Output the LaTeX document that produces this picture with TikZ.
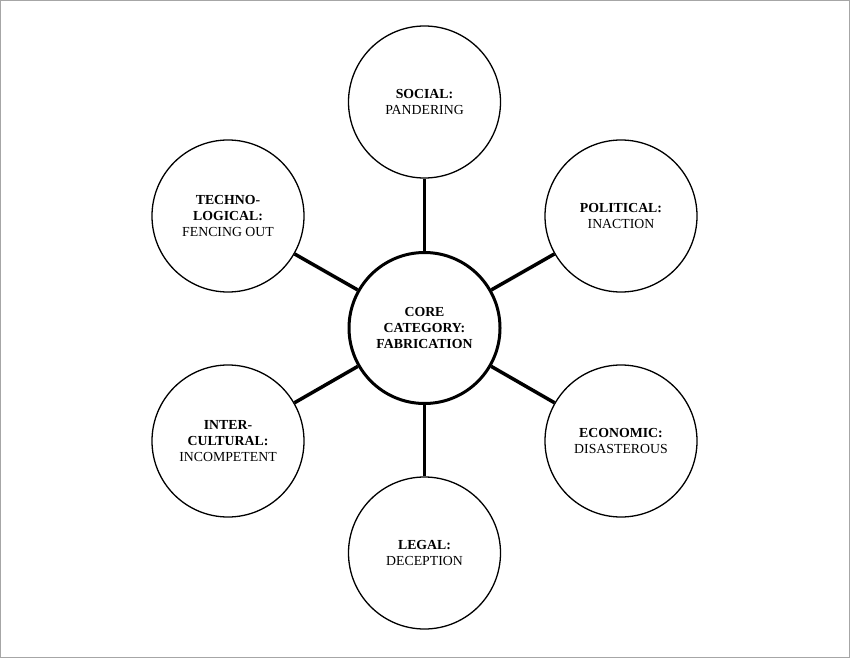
\documentclass[tikz,border=0pt]{standalone}
\usepackage{fontspec}
\setmainfont{Liberation Serif}
\begin{document}
\begin{tikzpicture}[x=1pt,y=-1pt,
  outer/.style={circle,draw,line width=1.3pt,minimum size=152pt,inner sep=0pt,align=center,font=\fontsize{13.8}{16}\selectfont},
  core/.style={circle,draw,line width=3pt,minimum size=151pt,inner sep=0pt,align=center,font=\fontsize{13.8}{16}\selectfont\bfseries},
  link/.style={line width=3.5pt}]
\draw[gray!70,line width=1pt] (0.5,0.5) rectangle (849.5,657.5);
\useasboundingbox (0,0) rectangle (850,658);
\node[core] (core) at (424.5,328) {CORE\\CATEGORY:\\FABRICATION};
\node[outer] (soc) at (424.5,102) {\textbf{SOCIAL:}\\PANDERING};
\node[outer] (pol) at (621,216) {\textbf{POLITICAL:}\\INACTION};
\node[outer] (eco) at (621,441) {\textbf{ECONOMIC:}\\DISASTEROUS};
\node[outer] (leg) at (424.5,553) {\textbf{LEGAL:}\\DECEPTION};
\node[outer] (int) at (228,441) {\textbf{INTER-}\\\textbf{CULTURAL:}\\INCOMPETENT};
\node[outer] (tec) at (228,216) {\textbf{TECHNO-}\\\textbf{LOGICAL:}\\FENCING OUT};
\foreach \n in {soc,pol,eco,leg,int,tec}
  \draw[link] (core) -- (\n);
\end{tikzpicture}
\end{document}
